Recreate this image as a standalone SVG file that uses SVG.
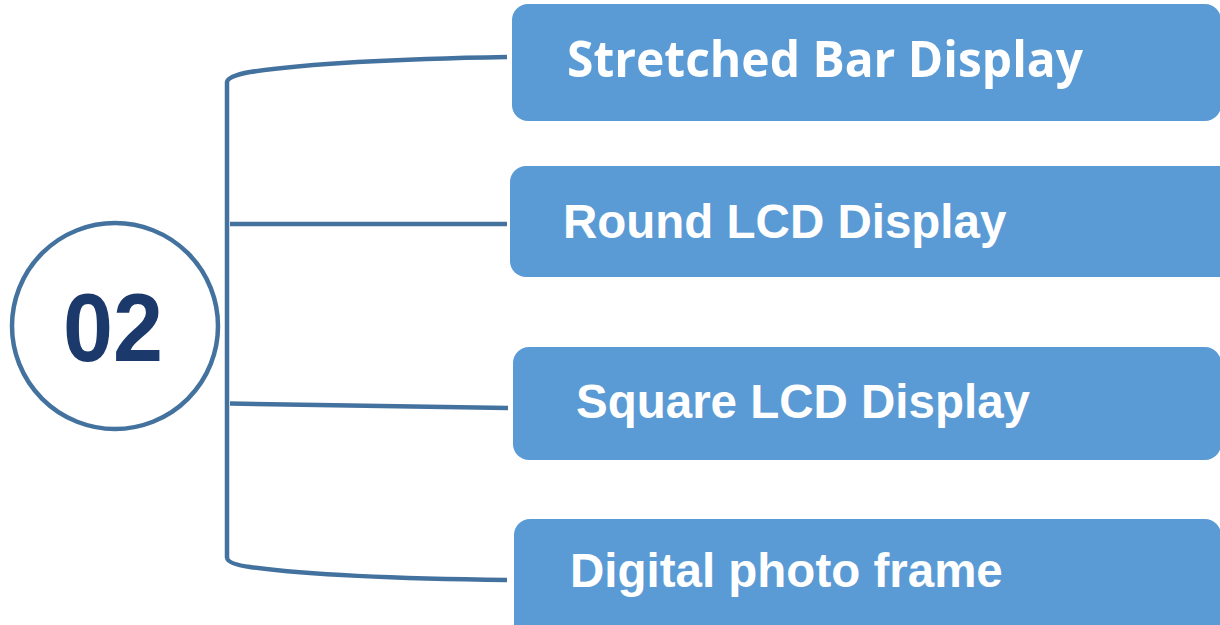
<svg xmlns="http://www.w3.org/2000/svg" width="1220" height="625" viewBox="0 0 1220 625">
<style>
.box{fill:#5b9bd5;}
.lbl{fill:#ffffff;font-family:"Liberation Sans",Arial,sans-serif;font-weight:bold;font-size:47.5px;}
.conn{fill:none;stroke:#44729f;stroke-width:4.5;stroke-linecap:butt;stroke-linejoin:round;}
</style>
<rect width="1220" height="625" fill="#ffffff"/>
<g id="hub">
<circle cx="115" cy="326" r="103" fill="#ffffff" stroke="#44729f" stroke-width="4.5"/>
<text x="113" y="361" text-anchor="middle" font-family="'Liberation Sans',Arial,sans-serif" font-weight="bold" font-size="96" fill="#1c396b" textLength="100" lengthAdjust="spacingAndGlyphs">02</text>
</g>
<g id="connectors">
<path class="conn" d="M227,558 V82 Q228,76 250,72 Q330,60 507,57"/>
<path class="conn" d="M227,558 Q228,564 250,567 Q330,578 507,580"/>
<path class="conn" d="M230,224 L507,224"/>
<path class="conn" d="M230,403.5 L508,408"/>
</g>
<g id="node1">
<rect class="box" x="512" y="4" width="709" height="117" rx="16"/>
<text x="567" y="77" fill="#ffffff" font-family="'Open Sans','Liberation Sans',sans-serif" font-weight="bold" font-size="50" textLength="516" lengthAdjust="spacingAndGlyphs">Stretched Bar Display</text>
</g>
<g id="node2">
<rect class="box" x="510" y="166" width="730" height="111" rx="16"/>
<text class="lbl" x="563" y="238">Round LCD Display</text>
</g>
<g id="node3">
<rect class="box" x="513" y="347" width="708" height="113" rx="16"/>
<text class="lbl" x="576" y="418">Square LCD Display</text>
</g>
<g id="node4">
<rect class="box" x="514" y="519" width="707" height="130" rx="16"/>
<text class="lbl" x="570" y="587">Digital photo frame</text>
</g>
</svg>
